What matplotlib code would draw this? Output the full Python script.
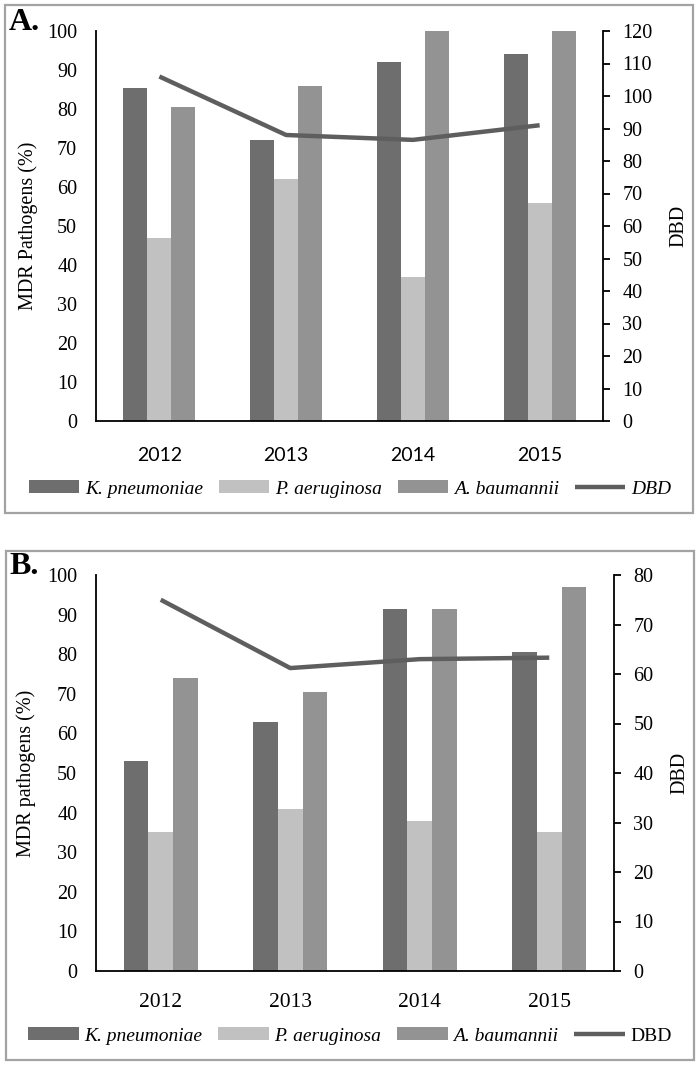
import numpy as np
import matplotlib
matplotlib.use("Agg")
import matplotlib.pyplot as plt
from matplotlib.patches import Rectangle

# data
years = ["2012", "2013", "2014", "2015"]
series = ["K. pneumoniae", "P. aeruginosa", "A. baumannii"]

a_kpn = [85.5, 72, 92, 94]
a_pae = [47, 62, 37, 56]
a_aba = [80.5, 86, 100, 100]
a_dbd = [106, 88, 86.5, 91]

b_kpn = [53, 63, 91.5, 80.5]
b_pae = [35, 41, 38, 35]
b_aba = [74, 70.5, 91.5, 97]
b_dbd = [75, 61.2, 63, 63.3]

colors = ["#6e6e6e", "#c1c1c1", "#939393"]
line_color = "#5e5e5e"

W, H = 700, 1067
fig = plt.figure(figsize=(W / 100, H / 100), dpi=100)

serif = "Liberation Serif"


def px_axes(left, right, top, bottom):
    return fig.add_axes([left / W, 1 - bottom / H, (right - left) / W, (bottom - top) / H])


def panel(box, ax_box, bars, dbd, rmax, rstep, ylab, year_font, dbd_italic, tag, tag_y, leg_y, year_pad):
    # panel frame
    x0, y0, x1, y1 = box
    fig.patches.append(Rectangle((x0 / W, 1 - y1 / H), (x1 - x0) / W, (y1 - y0) / H,
                                 transform=fig.transFigure, fill=False,
                                 edgecolor="#a3a3a3", linewidth=1.6))
    ax = px_axes(*ax_box)
    x = np.arange(len(years))
    w = 0.19
    handles = []
    for i, (vals, c, name) in enumerate(zip(bars, colors, series)):
        h = ax.bar(x + (i - 1) * w, vals, width=w, color=c, label=name)
        handles.append(h)
    ax.set_xlim(-0.5, 3.5)
    ax.set_ylim(0, 100)
    ax.set_yticks(np.arange(0, 101, 10))
    ax.set_xticks(x)
    ax.set_xticklabels(years, **year_font)
    ax.tick_params(axis="x", length=0, pad=year_pad)
    ax.tick_params(axis="y", length=0, pad=13.5)
    for lab in ax.get_yticklabels():
        lab.set_fontfamily(serif)
        lab.set_fontsize(14.5)
    ax.spines["top"].set_visible(False)
    ax.spines["right"].set_visible(False)
    for s in ["left", "bottom"]:
        ax.spines[s].set_linewidth(1.3)
    ax.set_ylabel(ylab, fontfamily=serif, fontsize=14.5)
    ax.yaxis.set_label_coords(-0.115, 0.5)

    ax2 = ax.twinx()
    ln, = ax2.plot(x, dbd, color=line_color, linewidth=3.2, solid_capstyle="butt", label="DBD")
    ax2.set_ylim(0, rmax)
    ax2.set_yticks(np.arange(0, rmax + 1, rstep))
    ax2.tick_params(axis="y", direction="out", length=5, width=1.3, pad=9)
    for lab in ax2.get_yticklabels():
        lab.set_fontfamily(serif)
        lab.set_fontsize(14.5)
    for s in ["top", "left", "bottom"]:
        ax2.spines[s].set_visible(False)
    ax2.spines["right"].set_linewidth(1.3)
    ax2.set_ylabel("DBD", fontfamily=serif, fontsize=14.5, labelpad=12)

    fig.text(9 / W, 1 - tag_y / H, tag, fontfamily=serif, fontweight="bold",
             fontsize=23, va="center", ha="left")

    leg = fig.legend(handles + [ln], series + ["DBD"], loc="center",
                     bbox_to_anchor=(0.5, 1 - leg_y / H), ncol=4, frameon=False,
                     handlelength=2.6, handleheight=0.65, handletextpad=0.3,
                     columnspacing=0.8, prop={"family": serif, "style": "italic", "size": 14})
    if not dbd_italic:
        leg.get_texts()[-1].set_fontstyle("normal")
    return ax, ax2


panel((5, 5, 693, 513), (96, 603, 31, 421),
      [a_kpn, a_pae, a_aba], a_dbd, 120, 10, "MDR Pathogens (%)",
      {"fontfamily": "Lato", "fontsize": 14}, True, "A.", 22, 489, 19)

panel((6, 551, 694, 1060), (96, 614, 575, 971),
      [b_kpn, b_pae, b_aba], b_dbd, 80, 10, "MDR pathogens (%)",
      {"fontfamily": serif, "fontsize": 15.5}, False, "B.", 566, 1036, 16)

fig.savefig("out.png", dpi=100)
